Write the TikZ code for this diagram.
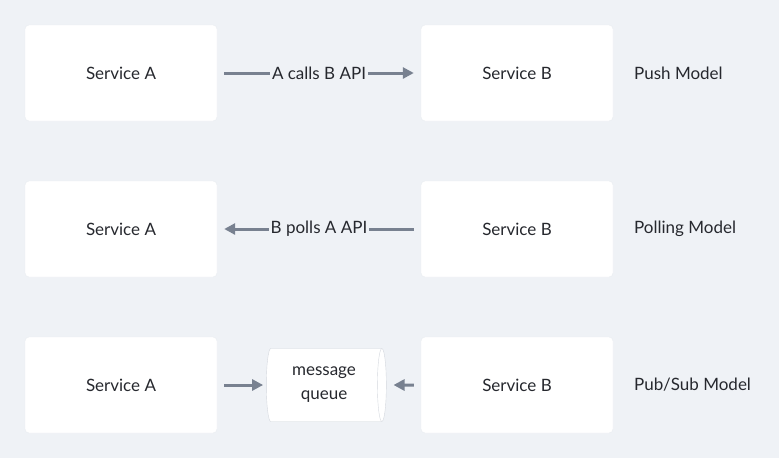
\documentclass[tikz,border=0pt]{standalone}
\usepackage{fontspec}
\setmainfont{Lato}
\definecolor{canvas}{RGB}{239,242,246}
\definecolor{wire}{RGB}{120,129,144}
\definecolor{ink}{RGB}{38,40,46}
\definecolor{rim}{RGB}{212,216,222}
\usetikzlibrary{arrows.meta,shapes.geometric}
\tikzset{
  svc/.style={fill=white, draw=canvas!80!rim, rounded corners=4pt, minimum width=192pt,
              minimum height=96pt, font=\fontsize{17}{20}\selectfont, text=ink},
  tag/.style={inner sep=2pt, font=\fontsize{17}{20}\selectfont, text=ink},
  model/.style={anchor=west, inner sep=0pt, font=\fontsize{17}{20}\selectfont, text=ink},
  queue/.style={cylinder, shape aspect=0.25, fill=white, draw=rim, minimum width=73pt,
              minimum height=120pt, inner sep=0pt, align=center,
              font=\fontsize{17}{24}\selectfont, text=ink},
  link/.style={wire, line width=3pt},
  flow/.style={-{Triangle[length=11pt,width=11pt]}, wire, line width=3pt},
}
\begin{document}
\begin{tikzpicture}[x=1pt,y=-1pt]
  \fill[canvas] (0,0) rectangle (779,458);
  % push
  \node[svc] (a1) at (121,73)  {Service A};
  \node[svc] (b1) at (517,73)  {Service B};
  \node[tag] (l1) at (319,73)  {A calls B API};
  \node[model] (m1) at (634,73) {Push Model};
  \draw[link, shorten <=7pt] (a1) -- (l1);
  \draw[flow, shorten >=7pt] (l1) -- (b1);
  % polling
  \node[svc] (a2) at (121,229) {Service A};
  \node[svc] (b2) at (517,229) {Service B};
  \node[tag] (l2) at (319,229) {B polls A API};
  \node[model] (m2) at (634,229) {Polling Model};
  \draw[link, shorten <=7pt] (b2) -- (l2);
  \draw[flow, shorten >=7pt] (l2) -- (a2);
  % pub/sub
  \node[svc] (a3) at (121,385) {Service A};
  \node[svc] (b3) at (517,385) {Service B};
  \node[queue] (mq) at (324,385) {message\\queue};
  \node[model] (m3) at (634,385) {Pub/Sub Model};
  \draw[flow, shorten <=7pt, shorten >=3pt] (a3) -- (mq);
  \draw[flow, shorten <=7pt, shorten >=7pt] (b3) -- (mq.east);
\end{tikzpicture}
\end{document}
